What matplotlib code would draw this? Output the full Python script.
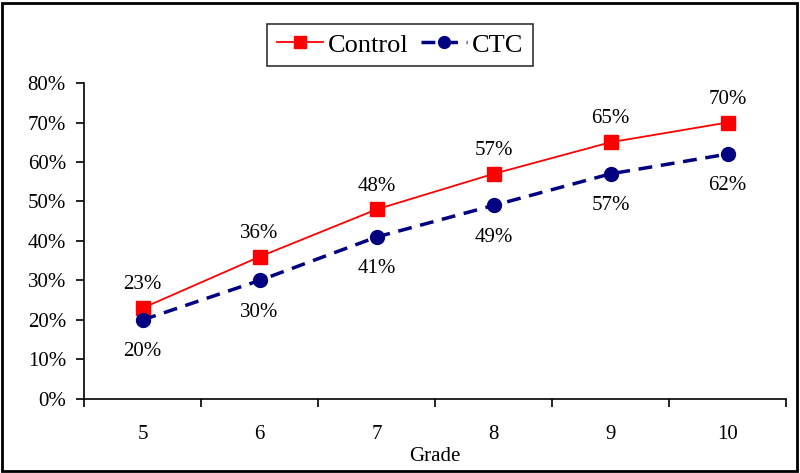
import matplotlib.pyplot as plt
from matplotlib.ticker import PercentFormatter, FixedLocator

grades = ["5", "6", "7", "8", "9", "10"]
control = [23, 36, 48, 57, 65, 70]
ctc = [20, 30, 41, 49, 57, 62]

plt.rcParams['font.family'] = ['Liberation Serif', 'DejaVu Serif']

fig = plt.figure(figsize=(8, 4.73), dpi=100)
fig.patches.append(plt.Rectangle((0.002, 0.004), 0.994, 0.99, transform=fig.transFigure,
                                 fill=False, edgecolor='black', linewidth=2))
ax = fig.add_axes([0.105, 0.1565, 0.8775, 0.668])

x = list(range(len(grades)))
ax.plot(x, control, color='#ff0000', linewidth=1.3, marker='s', markersize=9.5,
        label='Control')
ax.plot(x, ctc, color='#000080', linewidth=2.5, linestyle=(0, (4, 2.5)), marker='o',
        markersize=10, label='CTC')

for i, v in enumerate(control):
    ax.annotate(f"{v}%", (i, v), xytext=(0, 10), textcoords='offset points',
                ha='center', va='bottom', fontsize=15)
for i, v in enumerate(ctc):
    ax.annotate(f"{v}%", (i, v), xytext=(0, -16), textcoords='offset points',
                ha='center', va='top', fontsize=15)

ax.set_xlim(-0.5, len(grades) - 0.5)
ax.set_ylim(0, 80)
ax.set_yticks(range(0, 81, 10))
ax.yaxis.set_major_formatter(PercentFormatter(decimals=0))
ax.set_xticks(x)
ax.set_xticklabels(grades)
ax.xaxis.set_minor_locator(FixedLocator([i - 0.5 for i in range(len(grades) + 1)]))
ax.tick_params(axis='x', which='major', length=0, pad=19, labelsize=15)
ax.tick_params(axis='x', which='minor', length=6, width=1.2, direction='out')
ax.tick_params(axis='y', length=6, width=1.2, labelsize=15, pad=7)
ax.spines['top'].set_visible(False)
ax.spines['right'].set_visible(False)
ax.spines['left'].set_linewidth(1.2)
ax.spines['bottom'].set_linewidth(1.2)
ax.set_xlabel("Grade", fontsize=15, labelpad=2)

leg = fig.legend(loc='center', bbox_to_anchor=(0.5, 0.905), ncol=2, fontsize=19,
                 frameon=True, fancybox=False, edgecolor='black', handlelength=1.75,
                 columnspacing=0.45, handletextpad=0.2, borderpad=0.35, markerscale=0.85)
leg.get_frame().set_linewidth(1.2)

fig.savefig("out.png", dpi=100)
